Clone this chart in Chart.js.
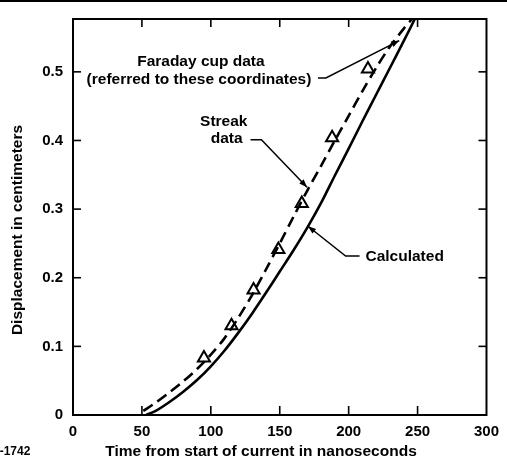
<!DOCTYPE html>
<html>
<head>
<meta charset="utf-8">
<script src="https://cdn.jsdelivr.net/npm/chart.js@4.4.1/dist/chart.umd.min.js"></script>
<style>
  html, body { margin: 0; padding: 0; background: #fff; }
  #wrap { width: 507px; height: 469px; position: relative; }
</style>
</head>
<body>
<div id="wrap"><canvas id="c" width="507" height="469"></canvas></div>
<script>
// ---- data ----
const xTicks = [0, 50, 100, 150, 200, 250, 300];
const yTicks = [0, 0.1, 0.2, 0.3, 0.4, 0.5];

const calcX = [53, 60, 70, 80, 90, 100, 110, 120, 130, 140, 150, 160, 170, 180, 190, 200, 210, 220, 230, 240, 248];
const calcY = [0, 0.006, 0.019, 0.034, 0.051, 0.071, 0.094, 0.12, 0.148, 0.178, 0.209, 0.24, 0.273, 0.309, 0.349, 0.388, 0.428, 0.467, 0.506, 0.545, 0.577];

const streakX = [51, 60, 70, 80, 90, 100, 110, 120, 130, 140, 150, 160, 170, 180, 190, 200, 210, 220, 230, 240, 246];
const streakY = [0.006, 0.018, 0.033, 0.049, 0.067, 0.088, 0.112, 0.142, 0.175, 0.212, 0.25, 0.289, 0.327, 0.363, 0.4, 0.436, 0.472, 0.506, 0.537, 0.563, 0.577];

const faradayX = [95, 115, 131, 149, 166, 188, 214];
const faradayY = [0.083, 0.13, 0.182, 0.241, 0.308, 0.404, 0.504];

const xTitle = 'Time from start of current in nanoseconds';
const yTitle = 'Displacement in centimeters';
const figId = '0-1742';

// annotations (positions in data coordinates)
const notes = [
  { lines: ['Faraday cup data', '(referred to these coordinates)'], at: [[92.8, 0.515], [91.4, 0.488]], align: 'center',
    leader: [[177.7, 0.491], [183.5, 0.491], [236.7, 0.5455]] },
  { lines: ['Streak', 'data'], at: [[109.4, 0.428], [111.5, 0.402]], align: 'center',
    leader: [[128.8, 0.401], [136.7, 0.401], [169.8, 0.332]] },
  { lines: ['Calculated'], at: [[212.2, 0.2305]], align: 'left',
    leader: [[207.9, 0.2315], [197.8, 0.2315], [170.5, 0.275]] }
];

const toPts = (xs, ys) => xs.map((x, i) => ({ x: x, y: ys[i] }));
const FONT = '"Liberation Sans", Arial, sans-serif';

const decor = {
  id: 'decor',
  afterDraw(chart) {
    const ctx = chart.ctx;
    const a = chart.chartArea;
    const xs = chart.scales.x, ys = chart.scales.y;
    ctx.save();
    ctx.strokeStyle = '#000';
    ctx.fillStyle = '#000';
    ctx.lineCap = 'butt';
    // top scan line
    ctx.lineWidth = 2;
    ctx.beginPath(); ctx.moveTo(0, 1); ctx.lineTo(507, 1); ctx.stroke();
    // frame
    ctx.lineWidth = 2;
    ctx.strokeRect(a.left, a.top, a.right - a.left, a.bottom - a.top);
    // inward ticks
    ctx.lineWidth = 1.6;
    yTicks.forEach(v => {
      if (v === 0) return;
      const py = ys.getPixelForValue(v);
      ctx.beginPath(); ctx.moveTo(a.left, py); ctx.lineTo(a.left + 8, py); ctx.stroke();
      ctx.beginPath(); ctx.moveTo(a.right, py); ctx.lineTo(a.right - 8, py); ctx.stroke();
    });
    xTicks.forEach(v => {
      if (v === 0 || v === 300) return;
      const px = xs.getPixelForValue(v);
      ctx.beginPath(); ctx.moveTo(px, a.bottom); ctx.lineTo(px, a.bottom - 9); ctx.stroke();
      ctx.beginPath(); ctx.moveTo(px, a.top); ctx.lineTo(px, a.top + 8); ctx.stroke();
    });
    // annotations
    ctx.font = 'bold 15.5px ' + FONT;
    ctx.textBaseline = 'middle';
    notes.forEach(n => {
      ctx.textAlign = n.align;
      n.lines.forEach((t, i) => {
        ctx.fillText(t, xs.getPixelForValue(n.at[i][0]), ys.getPixelForValue(n.at[i][1]));
      });
      const p = n.leader.map(q => [xs.getPixelForValue(q[0]), ys.getPixelForValue(q[1])]);
      ctx.lineWidth = 1.5;
      ctx.beginPath();
      ctx.moveTo(p[0][0], p[0][1]);
      for (let i = 1; i < p.length; i++) ctx.lineTo(p[i][0], p[i][1]);
      ctx.stroke();
      // arrowhead
      const [tx, ty] = p[p.length - 1], [fx, fy] = p[p.length - 2];
      const ang = Math.atan2(ty - fy, tx - fx);
      const L = 8, W = 3;
      ctx.beginPath();
      ctx.moveTo(tx, ty);
      ctx.lineTo(tx - L * Math.cos(ang) + W * Math.sin(ang), ty - L * Math.sin(ang) - W * Math.cos(ang));
      ctx.lineTo(tx - L * Math.cos(ang) - W * Math.sin(ang), ty - L * Math.sin(ang) + W * Math.cos(ang));
      ctx.closePath(); ctx.fill();
    });
    // axis titles
    ctx.font = 'bold 15.5px ' + FONT;
    ctx.textAlign = 'center';
    ctx.textBaseline = 'middle';
    ctx.fillText(xTitle, 261, 452);
    ctx.save();
    ctx.translate(18, 230);
    ctx.rotate(-Math.PI / 2);
    ctx.fillText(yTitle, 0, 0);
    ctx.restore();
    // figure id
    ctx.font = 'bold 12px ' + FONT;
    ctx.textAlign = 'left';
    ctx.fillText(figId, -7, 452);
    ctx.restore();
  }
};

new Chart(document.getElementById('c'), {
  type: 'scatter',
  data: {
    datasets: [
      { label: 'Calculated', data: toPts(calcX, calcY), showLine: true, borderColor: '#000', borderWidth: 2.6,
        pointRadius: 0, tension: 0.3, fill: false },
      { label: 'Streak data', data: toPts(streakX, streakY), showLine: true, borderColor: '#000', borderWidth: 2.6,
        borderDash: [11, 6], pointRadius: 0, tension: 0.3, fill: false },
      { label: 'Faraday cup data', data: toPts(faradayX, faradayY), showLine: false, pointStyle: 'triangle',
        pointRadius: 7, pointBackgroundColor: '#fff', pointBorderColor: '#000', pointBorderWidth: 2 }
    ]
  },
  options: {
    responsive: false,
    animation: false,
    devicePixelRatio: 1,
    layout: { padding: { left: 0, right: 17, top: 12, bottom: 0 } },
    plugins: { legend: { display: false }, tooltip: { enabled: false } },
    scales: {
      x: {
        type: 'linear', min: 0, max: 300,
        afterBuildTicks: s => { s.ticks = xTicks.map(v => ({ value: v })); },
        afterFit: s => { s.height = 54; },
        grid: { display: false, drawTicks: false },
        border: { display: false },
        ticks: { color: '#000', padding: 8, maxRotation: 0, font: { family: FONT, size: 15, weight: 'bold' },
          callback: v => String(v) }
      },
      y: {
        type: 'linear', min: 0, max: 0.577,
        afterBuildTicks: s => { s.ticks = yTicks.map(v => ({ value: v })); },
        afterFit: s => { s.width = 73; },
        grid: { display: false, drawTicks: false },
        border: { display: false },
        ticks: { color: '#000', padding: 10, font: { family: FONT, size: 15, weight: 'bold' },
          callback: v => (v === 0 ? '0' : v.toFixed(1)) }
      }
    }
  },
  plugins: [decor]
});
</script>
</body>
</html>
